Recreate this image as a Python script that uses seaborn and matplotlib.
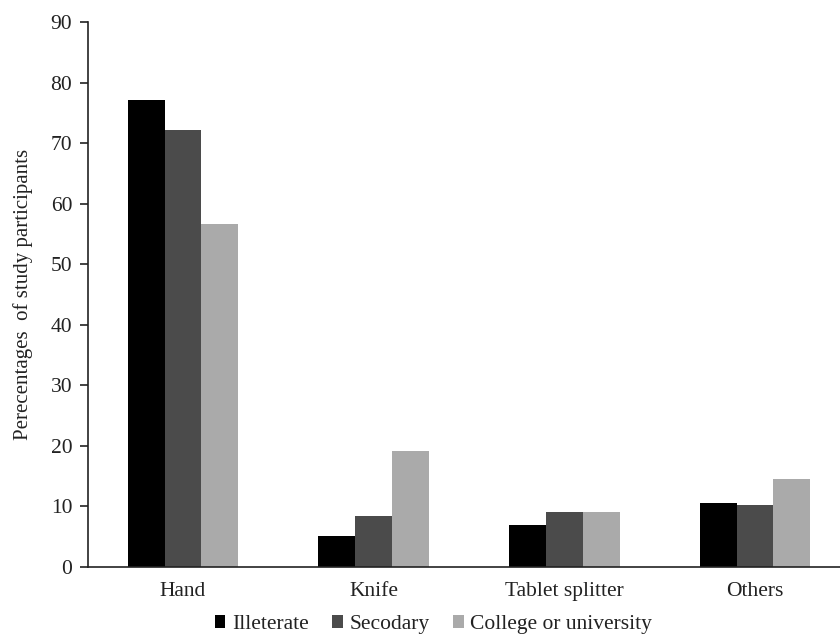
import matplotlib
matplotlib.use("Agg")
import matplotlib.pyplot as plt
import pandas as pd
import seaborn as sns

# Method of splitting tablets, by education level (% of study participants)
categories = ["Hand", "Knife", "Tablet splitter", "Others"]
groups = ["Illeterate", "Secodary", "College or university"]
illeterate = [77.1, 5.1, 7.0, 10.6]
secodary = [72.2, 8.5, 9.0, 10.3]
college = [56.6, 19.1, 9.0, 14.5]
yticks = [0, 10, 20, 30, 40, 50, 60, 70, 80, 90]

colors = ["#000000", "#4b4b4b", "#aaaaaa"]
text_color = "#222222"

rows = []
for grp, vals in zip(groups, [illeterate, secodary, college]):
    for cat, v in zip(categories, vals):
        rows.append({"Method": cat, "Education": grp, "Percent": v})
df = pd.DataFrame(rows)

sns.set_style("white")
plt.rcParams["font.family"] = ["Liberation Serif", "DejaVu Serif"]

fig = plt.figure(figsize=(8.4, 6.36), dpi=100)
ax = fig.add_axes([0.1043, 0.1085, 0.908, 0.857])

sns.barplot(data=df, x="Method", y="Percent", hue="Education",
            hue_order=groups, order=categories, palette=colors,
            width=0.58, saturation=1, linewidth=0, ax=ax)

ax.set_xlim(-0.5, 3.5)
ax.set_ylim(0, 90)
ax.set_yticks(yticks)
ax.tick_params(axis="y", left=True, length=6, width=1.2,
               color=text_color, labelsize=15.5, pad=5)
ax.tick_params(axis="x", bottom=False, labelsize=15.5, pad=7)
for lab in ax.get_yticklabels() + ax.get_xticklabels():
    lab.set_color(text_color)

for side in ["top", "right"]:
    ax.spines[side].set_visible(False)
for side in ["left", "bottom"]:
    ax.spines[side].set_color(text_color)
    ax.spines[side].set_linewidth(1.2)

ax.set_xlabel("")
ax.set_ylabel("Perecentages  of study participants", fontsize=15,
              color=text_color, labelpad=13)

handles, labels = ax.get_legend_handles_labels()
ax.legend_.remove()
fig.legend(handles, labels, loc="center", ncol=3,
           bbox_to_anchor=(0.516, 0.018), frameon=False, fontsize=15.5,
           handlelength=0.5, handleheight=0.5, handletextpad=0.3,
           columnspacing=1.1, labelcolor=text_color)

fig.savefig("out.png", dpi=100, facecolor="white")
